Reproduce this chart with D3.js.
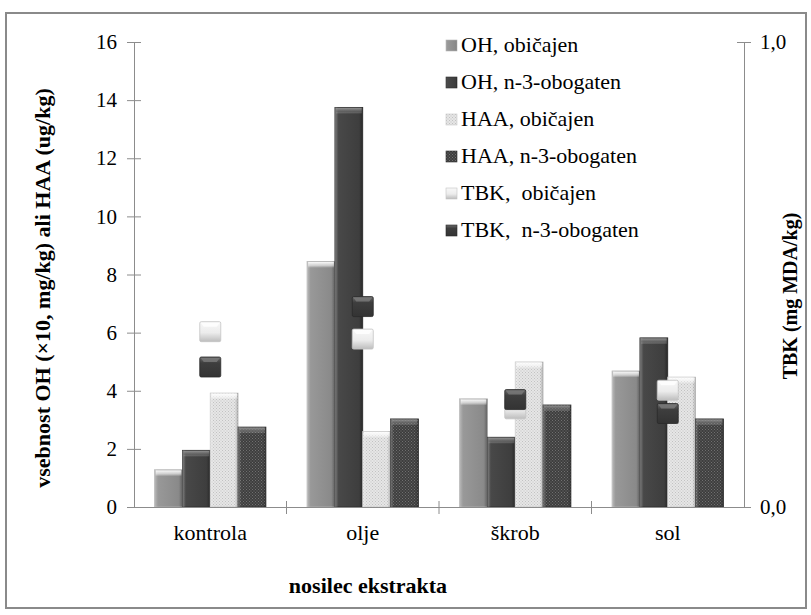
<!DOCTYPE html>
<html>
<head>
<meta charset="utf-8">
<script src="https://cdn.jsdelivr.net/npm/d3@7/dist/d3.min.js"></script>
<style>
  body { margin: 0; background: #fff; }
</style>
</head>
<body>
<svg id="chart" width="811" height="615"></svg>
<script>
// Extract carrier groups
const categories = ["kontrola", "olje", "škrob", "sol"];

// Bar series (left axis): OH ×10 mg/kg, HAA ug/kg
const ohObicajen   = [1.28, 8.45, 3.72, 4.68];
const ohObogaten   = [1.95, 13.75, 2.40, 5.82];
const haaObicajen  = [3.92, 2.60, 4.99, 4.47];
const haaObogaten  = [2.75, 3.03, 3.51, 3.03];

// Marker series (right axis): TBK mg MDA/kg
const tbkObicajen  = [0.376, 0.360, 0.210, 0.250];
const tbkObogaten  = [0.300, 0.430, 0.230, 0.200];

const barNames    = ["OH, običajen", "OH, n-3-obogaten", "HAA, običajen", "HAA, n-3-obogaten"];
const markerNames = ["TBK,  običajen", "TBK,  n-3-obogaten"];

const leftTicks  = [0, 2, 4, 6, 8, 10, 12, 14, 16];
const rightTicks = [0, 1];

const leftTitle  = "vsebnost OH (×10, mg/kg) ali HAA (ug/kg)";
const rightTitle = "TBK (mg MDA/kg)";
const xTitle     = "nosilec ekstrakta";

const barSeries = [ohObicajen, ohObogaten, haaObicajen, haaObogaten];
const markerSeries = [tbkObicajen, tbkObogaten];

const FONT = '"Liberation Serif", "Times New Roman", serif';

const svg = d3.select("#chart").style("font-family", FONT);
const plot = { left: 134, right: 744, top: 42, bottom: 507 };

// ---------- paint definitions ----------
const defs = svg.append("defs");

function hGradient(id, stops) {
  const g = defs.append("linearGradient").attr("id", id)
    .attr("x1", "0%").attr("x2", "100%").attr("y1", "0%").attr("y2", "0%");
  stops.forEach(([o, c, a]) => g.append("stop").attr("offset", o).attr("stop-color", c).attr("stop-opacity", a == null ? 1 : a));
}
function vGradient(id, stops) {
  const g = defs.append("linearGradient").attr("id", id)
    .attr("x1", "0%").attr("x2", "0%").attr("y1", "0%").attr("y2", "100%");
  stops.forEach(([o, c, a]) => g.append("stop").attr("offset", o).attr("stop-color", c).attr("stop-opacity", a == null ? 1 : a));
}

hGradient("g-oh1", [["0%", "#a2a2a2"], ["15%", "#989898"], ["85%", "#8a8a8a"], ["100%", "#7a7a7a"]]);
hGradient("g-oh2", [["0%", "#555555"], ["15%", "#484848"], ["85%", "#3e3e3e"], ["100%", "#333333"]]);

function dotPattern(id, base, dot) {
  const p = defs.append("pattern").attr("id", id)
    .attr("patternUnits", "userSpaceOnUse").attr("width", 3).attr("height", 3);
  p.append("rect").attr("width", 3).attr("height", 3).attr("fill", base);
  p.append("rect").attr("x", 0).attr("y", 0).attr("width", 1).attr("height", 1).attr("fill", dot);
  p.append("rect").attr("x", 1.5).attr("y", 1.5).attr("width", 1).attr("height", 1).attr("fill", dot);
}
dotPattern("p-haa1", "#e6e6e6", "#c2c2c2");
dotPattern("p-haa2", "#3e3e3e", "#707070");

// soft side shading laid over the textured bars
hGradient("g-shade", [["0%", "#ffffff", 0.25], ["12%", "#ffffff", 0.0], ["88%", "#000000", 0.0], ["100%", "#000000", 0.2]]);
// bevelled top cap
vGradient("g-cap-light", [["0%", "#ffffff", 0.95], ["60%", "#ffffff", 0.55], ["100%", "#ffffff", 0.0]]);
vGradient("g-cap-dark",  [["0%", "#9a9a9a", 0.9], ["60%", "#7a7a7a", 0.5], ["100%", "#ffffff", 0.0]]);

vGradient("g-tbk1", [["0%", "#f8f8f8"], ["55%", "#ececec"], ["100%", "#bdbdbd"]]);
vGradient("g-tbk2", [["0%", "#6a6a6a"], ["30%", "#3e3e3e"], ["100%", "#333333"]]);

const barFills    = ["url(#g-oh1)", "url(#g-oh2)", "url(#p-haa1)", "url(#p-haa2)"];
const barCaps     = ["url(#g-cap-light)", "url(#g-cap-dark)", "url(#g-cap-light)", "url(#g-cap-dark)"];
const barStrokes  = ["#b5b5b5", "#2e2e2e", "#c8c8c8", "#2e2e2e"];
const markerFills = ["url(#g-tbk1)", "url(#g-tbk2)"];
const markerStrokes = ["#c4c4c4", "#2a2a2a"];

// ---------- frame ----------
svg.append("rect")
  .attr("x", 6).attr("y", 13).attr("width", 800).attr("height", 595)
  .attr("fill", "#fff").attr("stroke", "#8a8a8a").attr("stroke-width", 2);

// ---------- scales ----------
const x = d3.scaleBand().domain(categories).range([plot.left, plot.right]).paddingInner(0).paddingOuter(0);
const xInner = d3.scaleBand().domain(d3.range(barSeries.length))
  .range([x.bandwidth() * 0.135, x.bandwidth() * 0.865]).padding(0);
const yLeft  = d3.scaleLinear().domain([0, 16]).range([plot.bottom, plot.top]);
const yRight = d3.scaleLinear().domain([0, 1]).range([plot.bottom, plot.top]);

const axisColor = "#8c8c8c";

function styleTicks(g, size) {
  g.attr("font-family", null).attr("font-size", null);
  g.selectAll(".tick text")
    .style("font-family", FONT).style("font-size", size).attr("fill", "#000");
}

// ---------- left axis ----------
const gL = svg.append("g").attr("transform", `translate(${plot.left},0)`)
  .call(d3.axisLeft(yLeft).tickValues(leftTicks).tickFormat(d3.format("d"))
    .tickSizeInner(7).tickSizeOuter(0).tickPadding(10));
gL.select(".domain").attr("stroke", axisColor);
gL.selectAll(".tick line").attr("stroke", axisColor).attr("x1", 7);
styleTicks(gL, "21px");

// ---------- right axis ----------
const gR = svg.append("g").attr("transform", `translate(${plot.right},0)`)
  .call(d3.axisRight(yRight).tickValues(rightTicks).tickFormat(d => d.toFixed(1).replace(".", ","))
    .tickSizeInner(7).tickSizeOuter(0).tickPadding(9));
gR.select(".domain").attr("stroke", axisColor);
gR.selectAll(".tick line").attr("stroke", axisColor).attr("x1", -7);
styleTicks(gR, "21px");

// ---------- bars ----------
const barData = [];
categories.forEach((c, ci) => {
  barSeries.forEach((s, si) => barData.push({ c, si, v: s[ci] }));
});

const bars = svg.append("g").selectAll("g.bar").data(barData).join("g").attr("class", "bar");
bars.append("rect")
  .attr("x", d => x(d.c) + xInner(d.si))
  .attr("y", d => yLeft(d.v))
  .attr("width", xInner.bandwidth())
  .attr("height", d => yLeft(0) - yLeft(d.v))
  .attr("fill", d => barFills[d.si])
  .attr("stroke", d => barStrokes[d.si]).attr("stroke-width", 0.8);
bars.append("rect")
  .attr("x", d => x(d.c) + xInner(d.si))
  .attr("y", d => yLeft(d.v))
  .attr("width", xInner.bandwidth())
  .attr("height", d => yLeft(0) - yLeft(d.v))
  .attr("fill", "url(#g-shade)");
bars.append("rect")
  .attr("x", d => x(d.c) + xInner(d.si) + 1)
  .attr("y", d => yLeft(d.v) + 0.5)
  .attr("width", xInner.bandwidth() - 2)
  .attr("height", 6)
  .attr("fill", d => barCaps[d.si]);

// ---------- x axis ----------
const gX = svg.append("g").attr("transform", `translate(0,${plot.bottom})`)
  .call(d3.axisBottom(x).tickSize(0).tickPadding(17));
gX.select(".domain").attr("stroke", axisColor);
styleTicks(gX, "22px");
// category boundary ticks crossing the axis line
const boundaries = categories.map(c => x(c)).concat([x(categories[categories.length - 1]) + x.bandwidth()]);
svg.append("g").selectAll("line").data(boundaries.slice(1, -1)).join("line")
  .attr("x1", d => d).attr("x2", d => d)
  .attr("y1", plot.bottom - 6).attr("y2", plot.bottom + 7)
  .attr("stroke", axisColor);

// ---------- TBK markers ----------
const markerData = [];
categories.forEach((c, ci) => {
  const items = markerSeries.map((s, mi) => ({ c, mi, v: s[ci] }));
  // the higher marker of each pair is painted last
  items.sort((a, b) => a.v - b.v).forEach(d => markerData.push(d));
});
const mSize = 21;
const markers = svg.append("g").selectAll("g.marker").data(markerData).join("g").attr("class", "marker")
  .attr("transform", d => `translate(${x(d.c) + x.bandwidth() / 2},${yRight(d.v)})`);
markers.append("rect")
  .attr("x", -mSize / 2).attr("y", -mSize / 2)
  .attr("width", mSize).attr("height", mSize - 1).attr("rx", 1.5)
  .attr("fill", d => markerFills[d.mi])
  .attr("stroke", d => markerStrokes[d.mi]).attr("stroke-width", 0.8);
markers.append("path")
  .attr("d", `M${-mSize / 2 + 1},${-mSize / 2 + 1} L${mSize / 2 - 1},${-mSize / 2 + 1} L${mSize / 2 - 4},${-mSize / 2 + 5} L${-mSize / 2 + 4},${-mSize / 2 + 5} Z`)
  .attr("fill", d => d.mi === 0 ? "#ffffff" : "#7a7a7a").attr("opacity", 0.8);

// ---------- legend ----------
const legendItems = barNames.map((n, i) => ({ n, fill: barFills[i], stroke: barStrokes[i] }))
  .concat(markerNames.map((n, i) => ({ n, fill: markerFills[i], stroke: markerStrokes[i] })));
const legend = svg.append("g").attr("transform", "translate(446,52)");
const li = legend.selectAll("g").data(legendItems).join("g")
  .attr("transform", (d, i) => `translate(0,${i * 37})`);
li.append("rect").attr("x", 0).attr("y", -12).attr("width", 11).attr("height", 11)
  .attr("fill", d => d.fill).attr("stroke", d => d.stroke).attr("stroke-width", 0.6);
li.append("text").attr("x", 15).attr("y", 0)
  .style("font-family", FONT).style("font-size", "22px").style("white-space", "pre")
  .text(d => d.n);

// ---------- axis titles ----------
svg.append("text")
  .attr("transform", `translate(50,288) rotate(-90)`)
  .attr("text-anchor", "middle")
  .style("font-family", FONT).style("font-size", "22px").style("font-weight", "bold")
  .text(leftTitle);
svg.append("text")
  .attr("transform", `translate(797,296) rotate(-90)`)
  .attr("text-anchor", "middle")
  .style("font-family", FONT).style("font-size", "20px").style("font-weight", "bold")
  .text(rightTitle);
svg.append("text")
  .attr("x", 368).attr("y", 593)
  .attr("text-anchor", "middle")
  .style("font-family", FONT).style("font-size", "22px").style("font-weight", "bold")
  .text(xTitle);
</script>
</body>
</html>
